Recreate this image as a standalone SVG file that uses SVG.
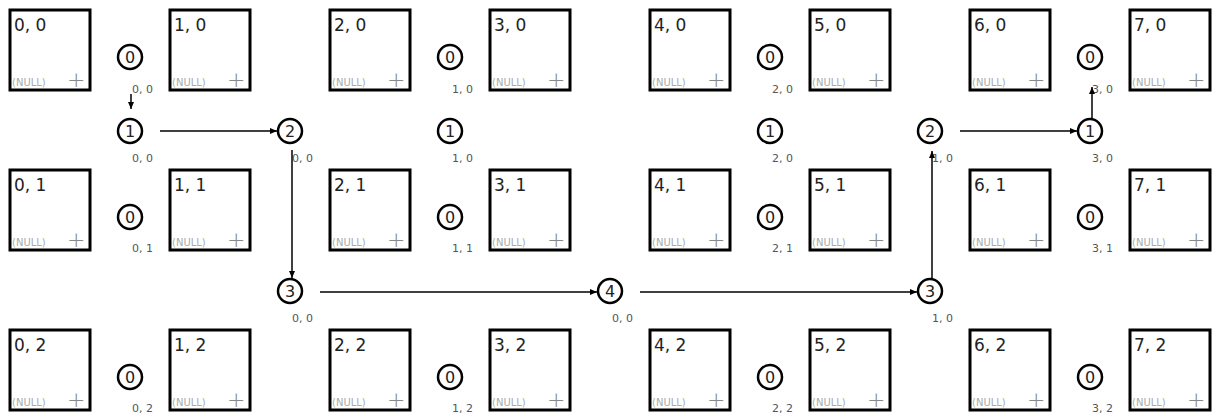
<svg xmlns="http://www.w3.org/2000/svg" width="1214" height="415" viewBox="0 0 1214 415">
<style>
.box{fill:#fff;stroke:#000;stroke-width:3}
.bl{font-family:"DejaVu Sans",Verdana,sans-serif;font-size:17px;fill:#222}
.nul{font-family:"DejaVu Sans",Verdana,sans-serif;font-size:10px;fill:#aaa}
.plus{font-family:"DejaVu Sans",sans-serif;font-size:22px;fill:#888;font-weight:200}
.c{fill:#fff;stroke:#000;stroke-width:2.5}
.cn{font-family:"DejaVu Sans",Verdana,sans-serif;font-size:16px;fill:#222;text-anchor:middle}
.cl{font-family:"DejaVu Sans",Verdana,sans-serif;font-size:11px;fill:#555}
.e{fill:none;stroke:#000;stroke-width:1.5}
</style>
<defs>
<marker id="ah" markerWidth="7" markerHeight="6" refX="7" refY="3" orient="auto" markerUnits="userSpaceOnUse"><path d="M0,0 L7,3 L0,6 Z" fill="#000"/></marker>
</defs>
<g id="boxes">
<g id="b00"><rect class="box" x="10" y="10" width="80" height="80"/><text class="bl" x="14" y="31">0, 0</text><text class="nul" x="12" y="86">(NULL)</text><text class="plus" x="67" y="87">+</text></g>
<g id="b10"><rect class="box" x="170" y="10" width="80" height="80"/><text class="bl" x="174" y="31">1, 0</text><text class="nul" x="172" y="86">(NULL)</text><text class="plus" x="227" y="87">+</text></g>
<g id="b20"><rect class="box" x="330" y="10" width="80" height="80"/><text class="bl" x="334" y="31">2, 0</text><text class="nul" x="332" y="86">(NULL)</text><text class="plus" x="387" y="87">+</text></g>
<g id="b30"><rect class="box" x="490" y="10" width="80" height="80"/><text class="bl" x="494" y="31">3, 0</text><text class="nul" x="492" y="86">(NULL)</text><text class="plus" x="547" y="87">+</text></g>
<g id="b40"><rect class="box" x="650" y="10" width="80" height="80"/><text class="bl" x="654" y="31">4, 0</text><text class="nul" x="652" y="86">(NULL)</text><text class="plus" x="707" y="87">+</text></g>
<g id="b50"><rect class="box" x="810" y="10" width="80" height="80"/><text class="bl" x="814" y="31">5, 0</text><text class="nul" x="812" y="86">(NULL)</text><text class="plus" x="867" y="87">+</text></g>
<g id="b60"><rect class="box" x="970" y="10" width="80" height="80"/><text class="bl" x="974" y="31">6, 0</text><text class="nul" x="972" y="86">(NULL)</text><text class="plus" x="1027" y="87">+</text></g>
<g id="b70"><rect class="box" x="1130" y="10" width="80" height="80"/><text class="bl" x="1134" y="31">7, 0</text><text class="nul" x="1132" y="86">(NULL)</text><text class="plus" x="1187" y="87">+</text></g>
<g id="b01"><rect class="box" x="10" y="170" width="80" height="80"/><text class="bl" x="14" y="191">0, 1</text><text class="nul" x="12" y="246">(NULL)</text><text class="plus" x="67" y="247">+</text></g>
<g id="b11"><rect class="box" x="170" y="170" width="80" height="80"/><text class="bl" x="174" y="191">1, 1</text><text class="nul" x="172" y="246">(NULL)</text><text class="plus" x="227" y="247">+</text></g>
<g id="b21"><rect class="box" x="330" y="170" width="80" height="80"/><text class="bl" x="334" y="191">2, 1</text><text class="nul" x="332" y="246">(NULL)</text><text class="plus" x="387" y="247">+</text></g>
<g id="b31"><rect class="box" x="490" y="170" width="80" height="80"/><text class="bl" x="494" y="191">3, 1</text><text class="nul" x="492" y="246">(NULL)</text><text class="plus" x="547" y="247">+</text></g>
<g id="b41"><rect class="box" x="650" y="170" width="80" height="80"/><text class="bl" x="654" y="191">4, 1</text><text class="nul" x="652" y="246">(NULL)</text><text class="plus" x="707" y="247">+</text></g>
<g id="b51"><rect class="box" x="810" y="170" width="80" height="80"/><text class="bl" x="814" y="191">5, 1</text><text class="nul" x="812" y="246">(NULL)</text><text class="plus" x="867" y="247">+</text></g>
<g id="b61"><rect class="box" x="970" y="170" width="80" height="80"/><text class="bl" x="974" y="191">6, 1</text><text class="nul" x="972" y="246">(NULL)</text><text class="plus" x="1027" y="247">+</text></g>
<g id="b71"><rect class="box" x="1130" y="170" width="80" height="80"/><text class="bl" x="1134" y="191">7, 1</text><text class="nul" x="1132" y="246">(NULL)</text><text class="plus" x="1187" y="247">+</text></g>
<g id="b02"><rect class="box" x="10" y="330" width="80" height="80"/><text class="bl" x="14" y="351">0, 2</text><text class="nul" x="12" y="406">(NULL)</text><text class="plus" x="67" y="407">+</text></g>
<g id="b12"><rect class="box" x="170" y="330" width="80" height="80"/><text class="bl" x="174" y="351">1, 2</text><text class="nul" x="172" y="406">(NULL)</text><text class="plus" x="227" y="407">+</text></g>
<g id="b22"><rect class="box" x="330" y="330" width="80" height="80"/><text class="bl" x="334" y="351">2, 2</text><text class="nul" x="332" y="406">(NULL)</text><text class="plus" x="387" y="407">+</text></g>
<g id="b32"><rect class="box" x="490" y="330" width="80" height="80"/><text class="bl" x="494" y="351">3, 2</text><text class="nul" x="492" y="406">(NULL)</text><text class="plus" x="547" y="407">+</text></g>
<g id="b42"><rect class="box" x="650" y="330" width="80" height="80"/><text class="bl" x="654" y="351">4, 2</text><text class="nul" x="652" y="406">(NULL)</text><text class="plus" x="707" y="407">+</text></g>
<g id="b52"><rect class="box" x="810" y="330" width="80" height="80"/><text class="bl" x="814" y="351">5, 2</text><text class="nul" x="812" y="406">(NULL)</text><text class="plus" x="867" y="407">+</text></g>
<g id="b62"><rect class="box" x="970" y="330" width="80" height="80"/><text class="bl" x="974" y="351">6, 2</text><text class="nul" x="972" y="406">(NULL)</text><text class="plus" x="1027" y="407">+</text></g>
<g id="b72"><rect class="box" x="1130" y="330" width="80" height="80"/><text class="bl" x="1134" y="351">7, 2</text><text class="nul" x="1132" y="406">(NULL)</text><text class="plus" x="1187" y="407">+</text></g>
</g>
<g id="zeros">
<g id="z00"><circle class="c" cx="130" cy="57" r="12"/><text class="cn" x="130" y="63">0</text><text class="cl" x="132" y="93">0, 0</text></g>
<g id="z10"><circle class="c" cx="450" cy="57" r="12"/><text class="cn" x="450" y="63">0</text><text class="cl" x="452" y="93">1, 0</text></g>
<g id="z20"><circle class="c" cx="770" cy="57" r="12"/><text class="cn" x="770" y="63">0</text><text class="cl" x="772" y="93">2, 0</text></g>
<g id="z30"><circle class="c" cx="1090" cy="57" r="12"/><text class="cn" x="1090" y="63">0</text><text class="cl" x="1092" y="93">3, 0</text></g>
<g id="z01"><circle class="c" cx="130" cy="217" r="12"/><text class="cn" x="130" y="223">0</text><text class="cl" x="132" y="252">0, 1</text></g>
<g id="z11"><circle class="c" cx="450" cy="217" r="12"/><text class="cn" x="450" y="223">0</text><text class="cl" x="452" y="252">1, 1</text></g>
<g id="z21"><circle class="c" cx="770" cy="217" r="12"/><text class="cn" x="770" y="223">0</text><text class="cl" x="772" y="252">2, 1</text></g>
<g id="z31"><circle class="c" cx="1090" cy="217" r="12"/><text class="cn" x="1090" y="223">0</text><text class="cl" x="1092" y="252">3, 1</text></g>
<g id="z02"><circle class="c" cx="130" cy="377" r="12"/><text class="cn" x="130" y="383">0</text><text class="cl" x="132" y="412">0, 2</text></g>
<g id="z12"><circle class="c" cx="450" cy="377" r="12"/><text class="cn" x="450" y="383">0</text><text class="cl" x="452" y="412">1, 2</text></g>
<g id="z22"><circle class="c" cx="770" cy="377" r="12"/><text class="cn" x="770" y="383">0</text><text class="cl" x="772" y="412">2, 2</text></g>
<g id="z32"><circle class="c" cx="1090" cy="377" r="12"/><text class="cn" x="1090" y="383">0</text><text class="cl" x="1092" y="412">3, 2</text></g>
</g>
<g id="path-nodes">
<g id="p1a"><circle class="c" cx="130" cy="131" r="12"/><text class="cn" x="130" y="137">1</text><text class="cl" x="132" y="162">0, 0</text></g>
<g id="p2a"><circle class="c" cx="290" cy="131" r="12"/><text class="cn" x="290" y="137">2</text><text class="cl" x="292" y="162">0, 0</text></g>
<g id="p1b"><circle class="c" cx="450" cy="131" r="12"/><text class="cn" x="450" y="137">1</text><text class="cl" x="452" y="162">1, 0</text></g>
<g id="p1c"><circle class="c" cx="770" cy="131" r="12"/><text class="cn" x="770" y="137">1</text><text class="cl" x="772" y="162">2, 0</text></g>
<g id="p2b"><circle class="c" cx="930" cy="131" r="12"/><text class="cn" x="930" y="137">2</text><text class="cl" x="932" y="162">1, 0</text></g>
<g id="p1d"><circle class="c" cx="1090" cy="131" r="12"/><text class="cn" x="1090" y="137">1</text><text class="cl" x="1092" y="162">3, 0</text></g>
<g id="p3a"><circle class="c" cx="290" cy="291" r="12"/><text class="cn" x="290" y="297">3</text><text class="cl" x="292" y="322">0, 0</text></g>
<g id="p4a"><circle class="c" cx="610" cy="291" r="12"/><text class="cn" x="610" y="297">4</text><text class="cl" x="612" y="322">0, 0</text></g>
<g id="p3b"><circle class="c" cx="930" cy="291" r="12"/><text class="cn" x="930" y="297">3</text><text class="cl" x="932" y="322">1, 0</text></g>
</g>
<g id="connectors">
<path class="e" d="M131,94 V109" marker-end="url(#ah)"/>
<path class="e" d="M160,131 H277" marker-end="url(#ah)"/>
<path class="e" d="M292,150 V278" marker-end="url(#ah)"/>
<path class="e" d="M320,292 H597" marker-end="url(#ah)"/>
<path class="e" d="M640,292 H917" marker-end="url(#ah)"/>
<path class="e" d="M932,278 V151" marker-end="url(#ah)"/>
<path class="e" d="M960,131 H1077" marker-end="url(#ah)"/>
<path class="e" d="M1092,118 V87" marker-end="url(#ah)"/>
</g>
</svg>
